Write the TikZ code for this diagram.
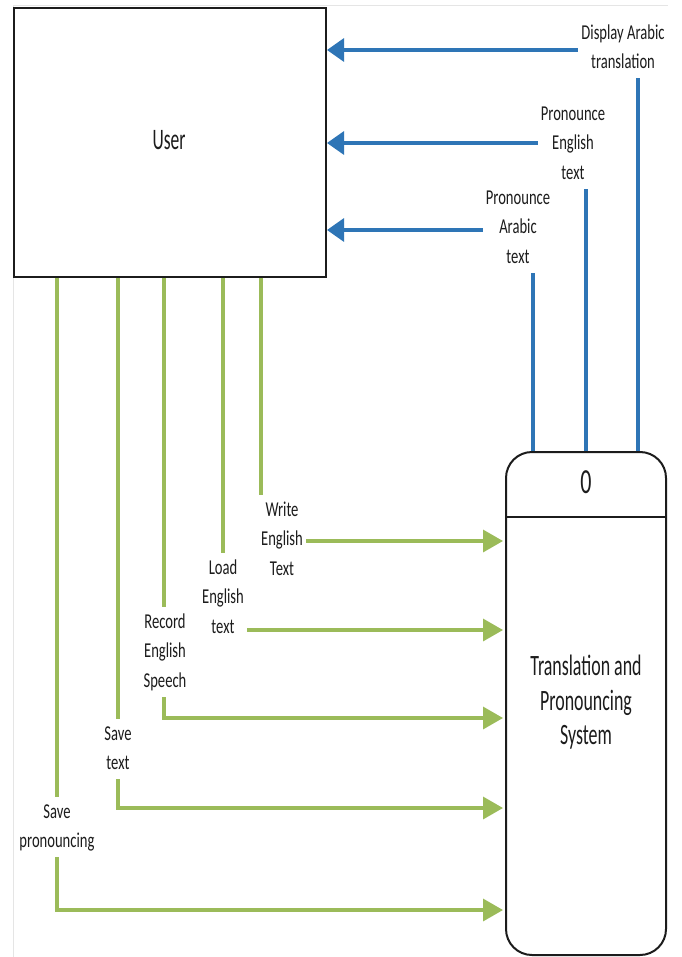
\documentclass[tikz,border=0pt]{standalone}
\usepackage{fontspec}
\setmainfont{Carlito}
\usepackage{graphicx}
\usetikzlibrary{arrows.meta}

\definecolor{flowblue}{RGB}{46,117,182}
\definecolor{flowgreen}{RGB}{155,187,89}
\definecolor{inkgray}{RGB}{28,28,28}

% text is set narrow and tall
\newcommand{\tallbox}[2]{\scalebox{1}[#1]{\begin{tabular}{@{}c@{}}#2\end{tabular}}}

\tikzset{
  entity/.style={draw=inkgray, line width=2pt, rectangle, inner sep=0pt},
  process/.style={draw=inkgray, line width=2pt, rectangle, rounded corners=26pt, inner sep=0pt},
  flowlabel/.style={fill=white, inner xsep=3pt, inner ysep=1pt, text=inkgray, align=center,
    font=\fontsize{14.6}{20.3}\selectfont},
  outflow/.style={draw=flowblue, line width=3.2pt,
    -{Triangle[length=17pt,width=23pt]}},
  inflow/.style={draw=flowgreen, line width=3.4pt, shorten >=2pt,
    -{Triangle[length=20pt,width=22pt]}},
}

\begin{document}
\begin{tikzpicture}[x=1pt,y=-1pt]
  \useasboundingbox[fill=white] (0,0) rectangle (681,957);
  % faint page frame
  \draw[black!10, line width=0.8pt] (13,957) -- (13,5) -- (668,5);

  % external entity and process
  \node[entity, minimum width=312pt, minimum height=269pt] (user) at (170,142.5) {};
  \node[process, minimum width=160pt, minimum height=503pt] (sys) at (586,703.5) {};

  % bend points of the flows
  \coordinate (b1) at (638,50);
  \coordinate (b2) at (586,143);
  \coordinate (b3) at (533,230);
  \coordinate (g1) at (261,541);
  \coordinate (g2) at (223,630);
  \coordinate (g3) at (164,718);
  \coordinate (g4) at (118,808);
  \coordinate (g5) at (57,910);
  \coordinate (div) at (586,517);

  % flows from the system to the user
  \draw[outflow] (sys.north -| b1) |- (user.east |- b1);
  \draw[outflow] (sys.north -| b2) |- (user.east |- b2);
  \draw[outflow] (sys.north -| b3) |- (user.east |- b3);

  % flows from the user to the system
  \draw[inflow] (user.south -| g1) |- (sys.west |- g1);
  \draw[inflow] (user.south -| g2) |- (sys.west |- g2);
  \draw[inflow] (user.south -| g3) |- (sys.west |- g3);
  \draw[inflow] (user.south -| g4) |- (sys.west |- g4);
  \draw[inflow] (user.south -| g5) |- (sys.west |- g5);

  % flow labels
  \node[flowlabel] (l1) at (623,48) {\tallbox{1.45}{Display Arabic\\translation}};
  \node[flowlabel] (l2) at (573,144) {\tallbox{1.45}{Pronounce\\English\\text}};
  \node[flowlabel] (l3) at (518,228) {\tallbox{1.45}{Pronounce\\Arabic\\text}};
  \node[flowlabel] (l4) at (282,540) {\tallbox{1.45}{Write\\English\\Text}};
  \node[flowlabel] (l5) at (223,598) {\tallbox{1.45}{Load\\English\\text}};
  \node[flowlabel] (l6) at (165,652) {\tallbox{1.45}{Record\\English\\Speech}};
  \node[flowlabel] (l7) at (118,749) {\tallbox{1.45}{Save\\text}};
  \node[flowlabel] (l8) at (57,827) {\tallbox{1.45}{Save\\pronouncing}};

  % box contents
  \node[text=inkgray, font=\fontsize{17.5}{21}\selectfont] (usertext) at (169,142) {\tallbox{1.7}{User}};
  \draw[draw=inkgray, line width=2pt] (sys.west |- div) -- (sys.east |- div);
  \node[text=inkgray, font=\fontsize{22}{26}\selectfont] (pid) at (586,485) {\tallbox{1.6}{0}};
  \node[text=inkgray, font=\fontsize{17.9}{21.2}\selectfont] (systext) at (586,703) {\tallbox{1.65}{Translation and\\Pronouncing\\System}};
\end{tikzpicture}
\end{document}
